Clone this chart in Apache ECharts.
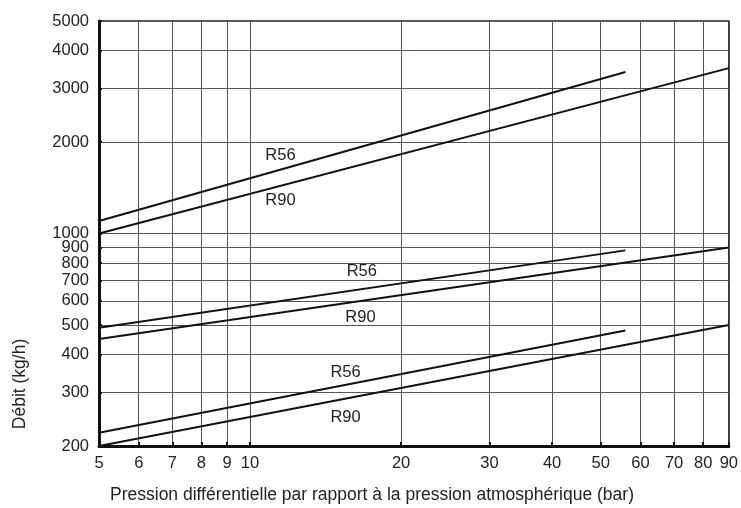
<!DOCTYPE html>
<html><head><meta charset="utf-8">
<script src="https://cdn.jsdelivr.net/npm/echarts@6/dist/echarts.min.js"></script>
<style>html,body{margin:0;padding:0;background:#fff}#c{width:741px;height:508px}</style>
</head><body><div id="c"></div>
<script>
// Tick values
const xTicks = [5, 6, 7, 8, 9, 10, 20, 30, 40, 50, 60, 70, 80, 90];
const yTicks = [200, 300, 400, 500, 600, 700, 800, 900, 1000, 2000, 3000, 4000, 5000];

// Curves (pressure in bar -> flow in kg/h)
const topR56X = [5, 56],  topR56Y = [1100, 3400];
const topR90X = [5, 90],  topR90Y = [1000, 3500];
const midR56X = [5, 56],  midR56Y = [490, 880];
const midR90X = [5, 90],  midR90Y = [450, 900];
const lowR56X = [5, 56],  lowR56Y = [221, 480];
const lowR90X = [5, 90],  lowR90Y = [200, 500];

// Curve labels
const labelText = ['R56', 'R90', 'R56', 'R90', 'R56', 'R90'];
const labelX = [11.5, 11.5, 16.7, 16.6, 15.5, 15.5];
const labelY = [1812, 1289, 749, 530, 349, 249];

const xName = 'Pression différentielle par rapport à la pression atmosphérique (bar)';
const yName = 'Débit (kg/h)';

const FONT = '"Liberation Sans", Arial, sans-serif';
const zip = (xs, ys) => xs.map((x, i) => [x, ys[i]]);
const curves = [
  zip(topR56X, topR56Y), zip(topR90X, topR90Y),
  zip(midR56X, midR56Y), zip(midR90X, midR90Y),
  zip(lowR56X, lowR56Y), zip(lowR90X, lowR90Y)
];

const chart = echarts.init(document.getElementById('c'), null, {renderer: 'canvas'});
const gridLine = {show: true, lineStyle: {color: '#555', width: 1}};
const fmt = v => String(Math.round(v));
chart.setOption({
  animation: false,
  backgroundColor: '#fff',
  grid: {left: 99, right: 12, top: 21, bottom: 62, show: true, borderColor: '#222', borderWidth: 1.5, backgroundColor: 'transparent'},
  xAxis: {
    type: 'log', logBase: 10, min: 5, max: 90,
    axisLine: {show: true, onZero: false, lineStyle: {color: '#111', width: 3}},
    axisTick: {show: true, inside: true, length: 4, lineStyle: {color: '#111', width: 2}, customValues: xTicks},
    axisLabel: {customValues: xTicks, formatter: fmt, color: '#222', fontSize: 16.5, fontFamily: FONT, margin: 9},
    splitLine: gridLine
  },
  yAxis: {
    type: 'log', logBase: 10, min: 200, max: 5000,
    axisLine: {show: true, onZero: false, lineStyle: {color: '#111', width: 3}},
    axisTick: {show: true, inside: true, length: 3, lineStyle: {color: '#111', width: 2}, customValues: yTicks},
    axisLabel: {customValues: yTicks, formatter: fmt, color: '#222', fontSize: 16.5, fontFamily: FONT, margin: 10},
    splitLine: gridLine
  },
  graphic: [
    {type: 'text', x: 20, y: 384, rotation: Math.PI / 2,
     style: {text: yName, fill: '#222', font: '17.5px ' + FONT, align: 'center', verticalAlign: 'middle'}},
    {type: 'text', x: 372, y: 495,
     style: {text: xName, fill: '#222', font: '17.5px ' + FONT, align: 'center', verticalAlign: 'middle'}}
  ],
  series: curves.map(d => ({
    type: 'line', data: d, symbol: 'none', silent: true,
    lineStyle: {color: '#111', width: 2}
  })).concat([{
    type: 'scatter', symbolSize: 0, silent: true,
    itemStyle: {color: '#222', opacity: 1},
    data: labelText.map((t, i) => ({name: t, value: [labelX[i], labelY[i]]})),
    label: {show: true, position: 'inside', formatter: p => p.name, color: '#222', opacity: 1,
            textBorderWidth: 0, textBorderColor: 'transparent',
            fontSize: 16.5, fontFamily: FONT}
  }])
});
</script></body></html>
